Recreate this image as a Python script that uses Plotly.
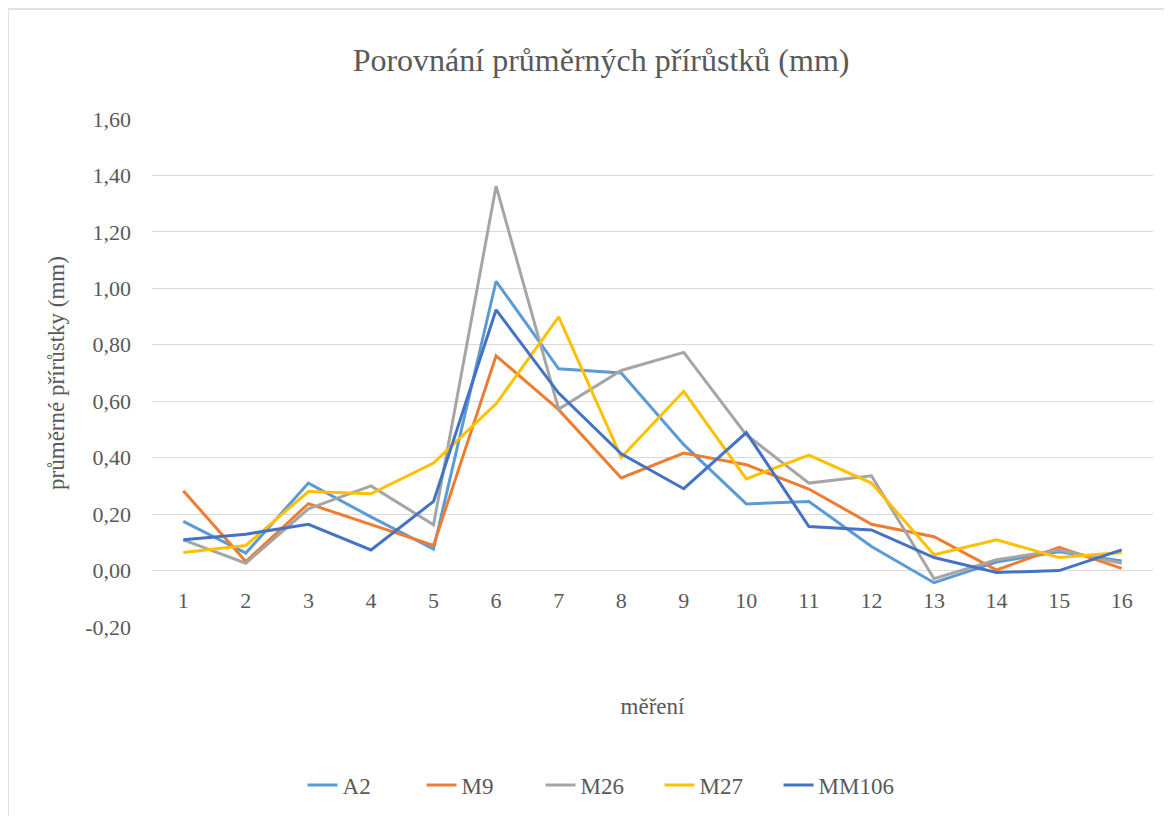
import plotly.graph_objects as go

# Average increments per measurement for each rootstock
mereni = list(range(1, 17))

a2 = [0.174, 0.062, 0.310, 0.190, 0.076, 1.025, 0.715, 0.700, 0.446, 0.236, 0.245, 0.085, -0.043, 0.030, 0.067, 0.034]
m9 = [0.283, 0.032, 0.237, 0.162, 0.089, 0.761, 0.570, 0.328, 0.416, 0.375, 0.289, 0.164, 0.120, 0.002, 0.082, 0.008]
m26 = [0.109, 0.026, 0.219, 0.300, 0.162, 1.362, 0.572, 0.709, 0.773, 0.481, 0.310, 0.336, -0.029, 0.038, 0.073, 0.026]
m27 = [0.064, 0.089, 0.280, 0.272, 0.381, 0.591, 0.899, 0.401, 0.635, 0.325, 0.409, 0.310, 0.056, 0.109, 0.046, 0.064]
mm106 = [0.109, 0.129, 0.164, 0.073, 0.245, 0.924, 0.629, 0.414, 0.290, 0.489, 0.156, 0.144, 0.046, -0.007, 0.000, 0.073]

series = {"A2": a2, "M9": m9, "M26": m26, "M27": m27, "MM106": mm106}
colors = ["#5B9BD5", "#ED7D31", "#A5A5A5", "#FFC000", "#4472C4"]

# y tick labels with decimal comma, as in the original
y_tickvals = [-0.2, 0.0, 0.2, 0.4, 0.6, 0.8, 1.0, 1.2, 1.4, 1.6]
y_ticktext = ["-0,20", "0,00", "0,20", "0,40", "0,60", "0,80", "1,00", "1,20", "1,40", "1,60"]

FONT = "Liberation Serif, DejaVu Serif, serif"
TEXT = "#595959"

fig = go.Figure()
for (name, vals), col in zip(series.items(), colors):
    fig.add_trace(go.Scatter(x=mereni, y=vals, name=name, mode="lines",
                             line=dict(color=col, width=3)))

fig.update_layout(
    template="none",
    width=1172, height=816,
    paper_bgcolor="white", plot_bgcolor="white",
    margin=dict(l=144, r=27, t=111, b=197),
    font=dict(family=FONT, color=TEXT, size=22),
    title=dict(text="Porovnání průměrných přírůstků (mm)",
               font=dict(family=FONT, size=32, color=TEXT),
               xref="paper", x=0.4486, xanchor="center",
               yref="container", y=1 - 52 / 816, yanchor="middle"),
    legend=dict(orientation="h", x=0.4476, xanchor="center", y=-0.311, yanchor="middle",
                font=dict(family=FONT, size=23, color=TEXT), entrywidth=74),
    showlegend=True,
)

fig.update_xaxes(
    range=[0.5, 16.5], tickmode="array", tickvals=mereni, ticktext=[str(m) for m in mereni],
    tickfont=dict(family=FONT, size=22, color=TEXT),
    showgrid=False, zeroline=False, showline=False, ticks="",
    anchor="free", position=0.2 / 1.8, ticklabelstandoff=14,
    title=dict(text="měření", standoff=86, font=dict(family=FONT, size=23, color=TEXT)),
    automargin=False,
)
fig.update_yaxes(
    range=[-0.2, 1.6], tickmode="array", tickvals=y_tickvals, ticktext=y_ticktext,
    tickfont=dict(family=FONT, size=22, color=TEXT),
    showgrid=True, gridcolor="#D9D9D9", gridwidth=1.3,
    zeroline=False, showline=False, ticks="", ticklabelstandoff=20,
    title=dict(text="průměrné přírůstky (mm)", standoff=14,
               font=dict(family=FONT, size=23, color=TEXT)),
    automargin=False,
)

# light border of the chart area
fig.add_shape(type="rect", xref="paper", yref="paper",
              x0=(0 - 144) / 1001, x1=(1190 - 144) / 1001,
              y0=(619 - 830) / 508, y1=(619 - 1) / 508,
              line=dict(color="#D9D9D9", width=1.5), layer="below")

fig.write_html("out.html")
